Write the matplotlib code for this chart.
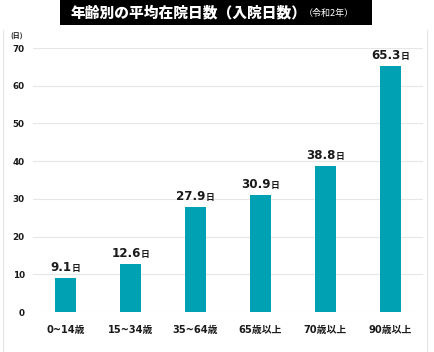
import matplotlib
matplotlib.use('Agg')
import matplotlib.pyplot as plt
from matplotlib.patches import Rectangle
from matplotlib.lines import Line2D

plt.rcParams['font.family'] = ['DejaVu Sans', 'Noto Sans CJK JP']

categories = ['0~14歳', '15~34歳', '35~64歳', '65歳以上', '70歳以上', '90歳以上']
days = [9.1, 12.6, 27.9, 30.9, 38.8, 65.3]
yticks = [0, 10, 20, 30, 40, 50, 60, 70]

barColor = '#00A1B2'
textColor = '#1a1a1a'
jp = ['Noto Sans CJK JP', 'DejaVu Sans']

W, H = 434, 352
fig = plt.figure(figsize=(W / 100, H / 100), dpi=100)
ax = fig.add_axes([33 / W, 1 - 312 / H, 390 / W, 264 / H])

x = list(range(len(categories)))
ax.bar(x, days, width=0.31, color=barColor, zorder=3)
ax.set_xlim(-0.5, len(categories) - 0.5)
ax.set_ylim(0, 70)
ax.set_yticks(yticks)
ax.set_xticks(x)
ax.set_xticklabels(categories, fontsize=7.1, fontweight='bold', color=textColor)
ax.set_yticklabels([str(t) for t in yticks], fontsize=6.3, fontweight='bold', color=textColor)
ax.tick_params(length=0, pad=6)
ax.tick_params(axis='x', pad=9)
ax.grid(axis='y', color='#e6e6e6', linewidth=0.8, zorder=0)
for s in ax.spines.values():
    s.set_visible(False)

# value labels: big number + small 日, centered together over the bar
fig.canvas.draw()
renderer = fig.canvas.get_renderer()
for xi, v in zip(x, days):
    num = ax.annotate(f'{v:.1f}', (xi, v), xytext=(0, 7), textcoords='offset pixels',
                      ha='center', va='baseline', fontsize=8.6, fontweight='bold', color=textColor)
    day = ax.annotate('日', (xi, v), xytext=(0, 7), textcoords='offset pixels',
                      ha='left', va='baseline', fontsize=6.3, fontweight='bold', color=textColor,
                      family=jp)
    wn = num.get_window_extent(renderer).width
    wd = day.get_window_extent(renderer).width
    num.set_position((-wd / 2, 7))
    day.set_position((wn / 2 - wd / 2, 7))

fig.text(10 / W, 1 - 36 / H, '(日)', fontsize=5, fontweight='bold', color=textColor,
         va='center', ha='left', family=jp)

# title box
fig.patches.append(Rectangle((60 / W, 1 - 25 / H), 312 / W, 25 / H, transform=fig.transFigure,
                             facecolor='black', edgecolor='none'))
fig.text(71 / W, 1 - 12.5 / H, '年齢別の平均在院日数（入院日数）', fontsize=10.6,
         fontweight='heavy', color='white', va='center', ha='left', family=jp)
fig.text(304 / W, 1 - 13.5 / H, '（令和2年）', fontsize=6.5, color='white', va='center',
         ha='left', family=jp)

# faint frame
for px in (3, 427):
    fig.lines.append(Line2D([px / W, px / W], [0, 1 - 30 / H], transform=fig.transFigure,
                            color='#e6e6e6', linewidth=0.8))

fig.savefig('out.png', dpi=100)
